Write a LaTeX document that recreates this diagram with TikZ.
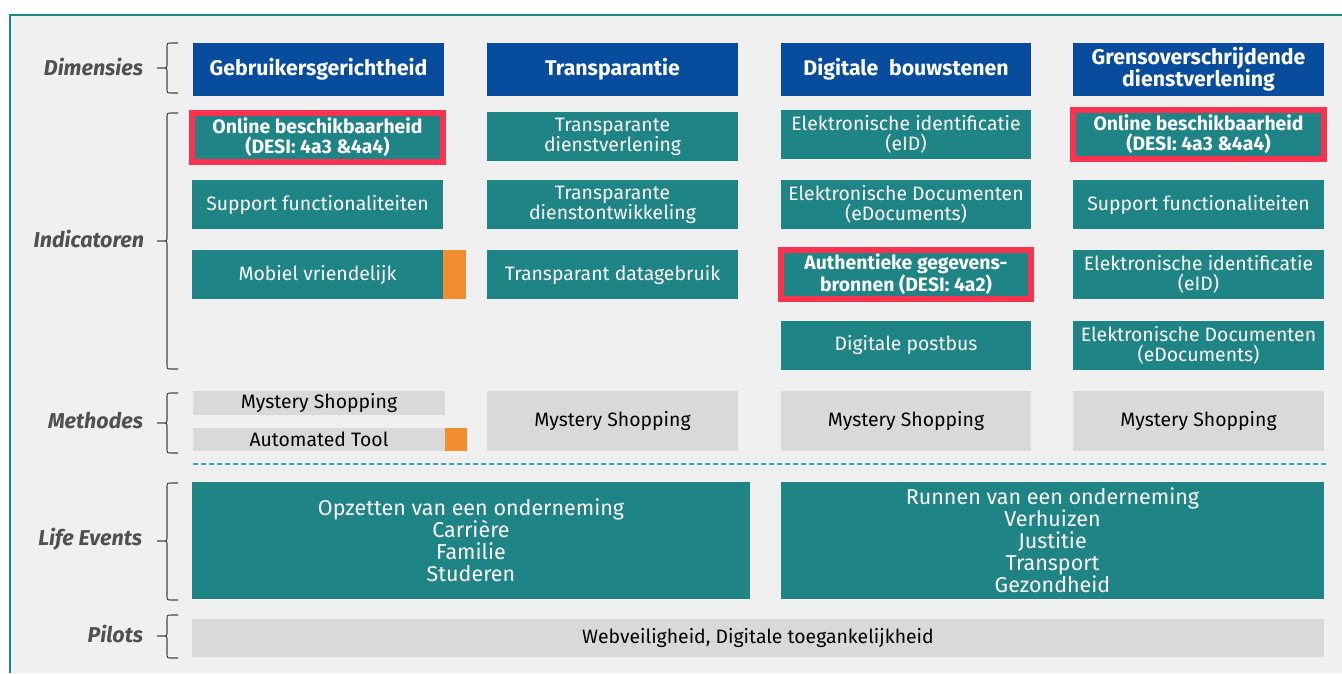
\documentclass[tikz,border=0pt]{standalone}
\usepackage{fontspec}
\setmainfont{Fira Sans}
\definecolor{hdrblue}{RGB}{8,76,158}
\definecolor{tealbox}{RGB}{30,132,134}
\definecolor{hlred}{RGB}{250,50,80}
\definecolor{orangebar}{RGB}{240,142,48}
\definecolor{boxgray}{RGB}{217,217,217}
\definecolor{panelbg}{RGB}{240,240,240}
\definecolor{frameteal}{RGB}{26,134,134}
\definecolor{lblgray}{RGB}{80,80,80}
\definecolor{bracegray}{RGB}{70,70,70}
\definecolor{sepblue}{RGB}{40,170,225}
\newcommand\fHead{\fontsize{21.3}{22}\selectfont\bfseries}
\newcommand\fInd{\fontsize{19.4}{20}\selectfont}
\newcommand\fLife{\fontsize{21.5}{22}\selectfont}
\newcommand\fMeth{\fontsize{19.4}{20}\selectfont}
\newcommand\fLbl{\fontsize{21.5}{22}\selectfont\bfseries\itshape}
\begin{document}
\begin{tikzpicture}[x=1pt,y=-1pt,
  every node/.style={inner sep=0pt,outer sep=0pt,align=center},
  hdr/.style={fill=hdrblue,text=white,font=\fHead,minimum width=251pt,minimum height=53pt},
  ind/.style={fill=tealbox,text=white,font=\fInd,minimum width=251pt,minimum height=49pt},
  hl/.style={draw=hlred,line width=6pt,font=\fInd\bfseries},
  meth/.style={fill=boxgray,text=black,font=\fMeth,minimum width=251pt,minimum height=60pt},
  accent/.style={fill=orangebar,minimum width=23pt},
  life/.style={fill=tealbox,text=white,font=\fLife,minimum height=117pt},
  lbl/.style={anchor=east,text=lblgray,font=\fLbl},
  bracestyle/.style={draw=bracegray,line width=1.1pt},
  sep/.style={draw=sepblue,line width=1.6pt,dash pattern=on 5pt off 3pt}]

% page and panel
\useasboundingbox (0,0) rectangle (1342,673);
\fill[white] (0,0) rectangle (1342,673);
\fill[panelbg] (10,15) rectangle (1342,673);
\draw[frameteal,line width=2.5pt] (10,673) -- (10,15) -- (1342,15);

% row labels
\node[lbl] (dim) at (143,67) {Dimensies};
\node[lbl] (indl) at (144,239) {Indicatoren};
\node[lbl] (meth) at (143,421) {Methodes};
\node[lbl] (life) at (142,539) {Life Events};
\node[lbl] (pil) at (143,634) {Pilots};

% braces
\foreach \t/\m/\b in {43/68/93, 113/241/369, 393/423/453, 483/541/600, 615/636/658}
  \draw[bracestyle] (178,\t) -- (172,\t) .. controls (167,\t) .. (167,\t+5)
    -- (167,\m-4) .. controls (167,\m) .. (162,\m) -- (157,\m)
    (162,\m) .. controls (167,\m) .. (167,\m+4)
    -- (167,\b-5) .. controls (167,\b) .. (172,\b) -- (178,\b);

% dimension headers
\node[hdr] (h1) at (318.5,69.5) {Gebruikersgerichtheid};
\node[hdr] (h2) at (612.5,69.5) {Transparantie};
\node[hdr,minimum width=250pt] (h3) at (906,69.5) {Digitale\hspace{0.5em}bouwstenen};
\node[hdr] (h4) at (1198.5,69.5) {Grensoverschrijdende\\dienstverlening};

% indicators, column 1
\node[ind,hl] (i11) at (317.5,137) {Online beschikbaarheid\\(DESI: 4a3 \&4a4)};
\node[ind] (i12) at (317.5,204.5) {Support functionaliteiten};
\node[ind] (i13) at (317.5,274.5) {Mobiel vriendelijk};
\node[accent,minimum height=49pt] (o13) at (454.5,274.5) {};

% indicators, column 2
\node[ind] (i21) at (612.5,136.5) {Transparante\\dienstverlening};
\node[ind] (i22) at (612.5,204.5) {Transparante\\dienstontwikkeling};
\node[ind] (i23) at (612.5,274.5) {Transparant datagebruik};

% indicators, column 3
\node[ind,minimum width=250pt] (i31) at (906,134.5) {Elektronische identificatie\\(eID)};
\node[ind,minimum width=250pt] (i32) at (906,204.5) {Elektronische Documenten\\(eDocuments)};
\node[ind,hl,minimum width=250pt] (i33) at (906,274.5) {Authentieke gegevens-\\bronnen (DESI: 4a2)};
\node[ind,minimum width=250pt] (i34) at (906,345) {Digitale postbus};

% indicators, column 4
\node[ind,hl] (i41) at (1198.5,134.5) {Online beschikbaarheid\\(DESI: 4a3 \&4a4)};
\node[ind] (i42) at (1198.5,204.5) {Support functionaliteiten};
\node[ind] (i43) at (1198.5,274.5) {Elektronische identificatie\\(eID)};
\node[ind] (i44) at (1198.5,345) {Elektronische Documenten\\(eDocuments)};

% methods
\node[meth,minimum width=252pt,minimum height=24pt] (m11) at (319,403) {Mystery Shopping};
\node[meth,minimum width=252pt,minimum height=23pt] (m12) at (319,439.5) {Automated Tool};
\node[accent,minimum width=22pt,minimum height=23pt] (o12) at (456,439.5) {};
\node[meth] (m2) at (612.5,421) {Mystery Shopping};
\node[meth,minimum width=250pt] (m3) at (906,421) {Mystery Shopping};
\node[meth] (m4) at (1198.5,421) {Mystery Shopping};

% separator
\draw[sep] (193,464) -- (1326,464);

% life events
\node[life,minimum width=558pt] (le1) at (471,540.5)
  {Opzetten van een onderneming\\Carrière\\Familie\\Studeren};
\node[life,minimum width=543pt] (le2) at (1052.5,540.5)
  {Runnen van een onderneming\\Verhuizen\\Justitie\\Transport\\Gezondheid};

% pilots
\node[meth,minimum width=1132pt,minimum height=38pt] (p1) at (758,638)
  {Webveiligheid, Digitale toegankelijkheid};

\end{tikzpicture}
\end{document}
